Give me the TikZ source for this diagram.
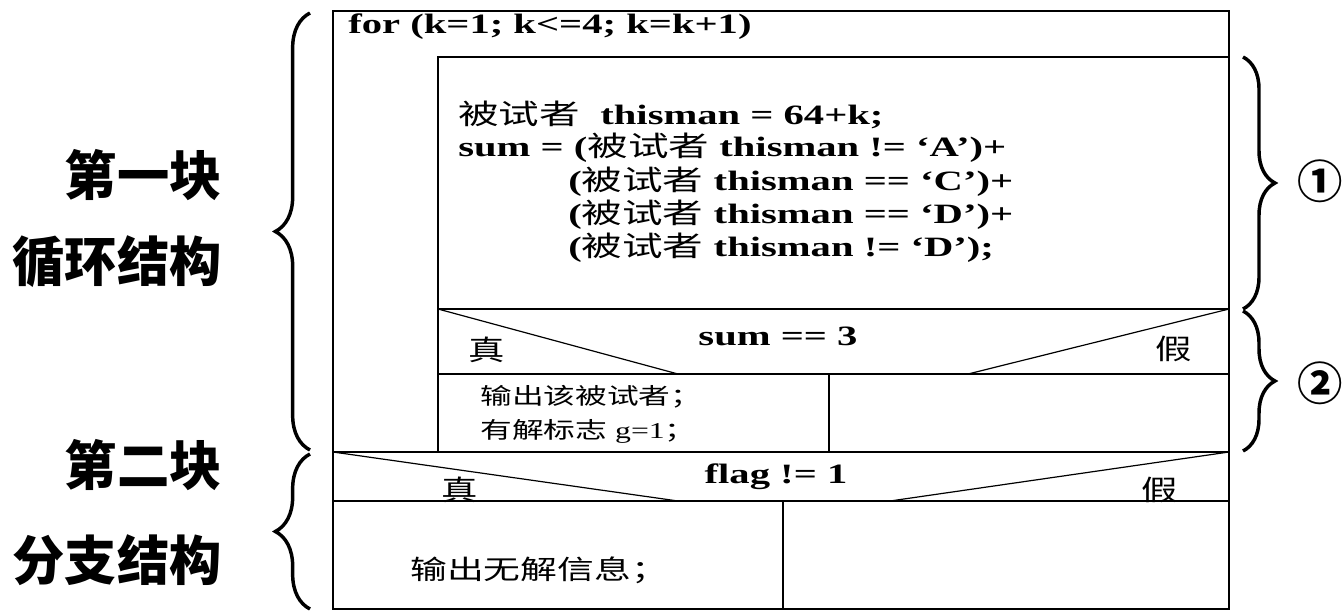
\documentclass[tikz,border=0pt]{standalone}
\usepackage{fontspec}
\usepackage{graphicx}
\setmainfont{Liberation Serif}
\newfontfamily\cjk{Noto Sans CJK SC}
\usetikzlibrary{decorations.pathreplacing}
\newcommand\zh[1]{{\cjk\mdseries #1}}
\newcommand\hs[2][1.45]{\scalebox{#1}[1]{#2}}
\begin{document}
\begin{tikzpicture}[x=0.75pt,y=-0.75pt,
  box/.style={line width=1.1pt,line cap=rect},
  sep/.style={line width=0.9pt},
  brc/.style={line width=2.6pt,decorate,decoration={brace,amplitude=#1}},
  code/.style={anchor=west,inner sep=0pt,font=\bfseries\fontsize{21}{25}\selectfont},
  cond/.style={anchor=center,inner sep=0pt,font=\bfseries\fontsize{21}{25}\selectfont},
  tf/.style={anchor=center,inner sep=0pt,font=\cjk\fontsize{21}{25}\selectfont},
  small/.style={anchor=west,inner sep=0pt,font=\bfseries\fontsize{17}{20}\selectfont},
  lab/.style={anchor=east,inner sep=0pt,font=\cjk\bfseries\fontsize{40}{44}\selectfont},
  num/.style={anchor=center,inner sep=0pt,font=\cjk\bfseries\fontsize{34}{36}\selectfont}]
\useasboundingbox (0,0) rectangle (1342,615);
% outer box
\coordinate (OTL) at (333,11);
\coordinate (OBR) at (1229,609);
\draw[box] (OTL) rectangle (OBR);
% inner loop body
\coordinate (ITL) at (438,57);
\coordinate (ITR) at (1229,57);
\coordinate (IBL) at (438,452);
\draw[box] (IBL) -- (ITL) -- (ITR);
% condition 1
\coordinate (C1L) at (438,309);
\coordinate (C1R) at (1229,309);
\coordinate (C1BL) at (438,374);
\coordinate (C1BR) at (1229,374);
\draw[sep] (C1L) -- (C1R);
\draw[sep] (C1BL) -- (C1BR);
\coordinate (C1T) at (678,374);
\coordinate (C1F) at (968,374);
\draw[sep] (C1L) -- (C1T);
\draw[sep] (C1R) -- (C1F);
\coordinate (D1T) at (829,374);
\coordinate (D1B) at (829,452);
\draw[sep] (D1T) -- (D1B);
% condition 2
\coordinate (C2L) at (333,452);
\coordinate (C2R) at (1229,452);
\coordinate (C2BL) at (333,501);
\coordinate (C2BR) at (1229,501);
\draw[box] (C2L) -- (C2R);
\draw[sep] (C2BL) -- (C2BR);
\coordinate (C2T) at (678,501);
\coordinate (C2F) at (890,501);
\draw[sep] (C2L) -- (C2T);
\draw[sep] (C2R) -- (C2F);
\coordinate (D2T) at (783,501);
\coordinate (D2B) at (783,609);
\draw[sep] (D2T) -- (D2B);
% texts
\node[code] (for) at (348,27) {\hs{for (k=1; k<=4; k=k+1)}};
\node[code] (l1) at (458,115) {\hs{\zh{被试者}\ \ thisman = 64+k;}};
\node[code] (l2) at (458,148) {\hs{sum = (\zh{被试者} thisman != ‘A’)+}};
\node[code] (l3) at (568,182) {\hs{(\zh{被试者} thisman == ‘C’)+}};
\node[code] (l4) at (568,215) {\hs{(\zh{被试者} thisman == ‘D’)+}};
\node[code] (l5) at (568,248) {\hs{(\zh{被试者} thisman != ‘D’);}};
\node[cond] (c1) at (778,336) {\hs{sum == 3}};
\node[tf] (t1) at (487,350) {\hs[1.3]{真}};
\node[tf] (f1) at (1174,349) {\hs[1.3]{假}};
\node[small] (o1) at (480,397) {\hs[1.4]{\zh{输出该被试者；}}};
\node[small] (o2) at (480,431) {\hs[1.4]{\zh{有解标志} \mdseries g=1\zh{；}}};
\node[cond] (c2) at (776,477) {\hs{flag != 1}};
\node[tf] (t2) at (460,490) {\hs[1.3]{真}};
\node[tf] (f2) at (1160,490) {\hs[1.3]{假}};
\node[small,font=\cjk\fontsize{20}{24}\selectfont] (o3) at (410,570) {\hs[1.38]{输出无解信息；}};
% left labels
\node[lab] (b1a) at (222,175) {\hs[0.98]{第一块}};
\node[lab] (b1b) at (222,262) {\hs[0.98]{循环结构}};
\node[lab] (b2a) at (222,465) {\hs[0.98]{第二块}};
\node[lab] (b2b) at (222,560) {\hs[0.98]{分支结构}};
% braces
\coordinate (LB1a) at (310,450);
\coordinate (LB1b) at (310,13);
\coordinate (LB2a) at (310,609);
\coordinate (LB2b) at (310,454);
\draw[brc=26pt] (LB1a) -- (LB1b);
\draw[brc=26pt] (LB2a) -- (LB2b);
\coordinate (RB1a) at (1243,57);
\coordinate (RB1b) at (1243,309);
\coordinate (RB2a) at (1243,311);
\coordinate (RB2b) at (1243,451);
\draw[brc=24pt] (RB1a) -- (RB1b);
\draw[brc=24pt] (RB2a) -- (RB2b);
\node[num] (n1) at (1320,181) {①};
\node[num] (n2) at (1320,383) {②};
\end{tikzpicture}
\end{document}
